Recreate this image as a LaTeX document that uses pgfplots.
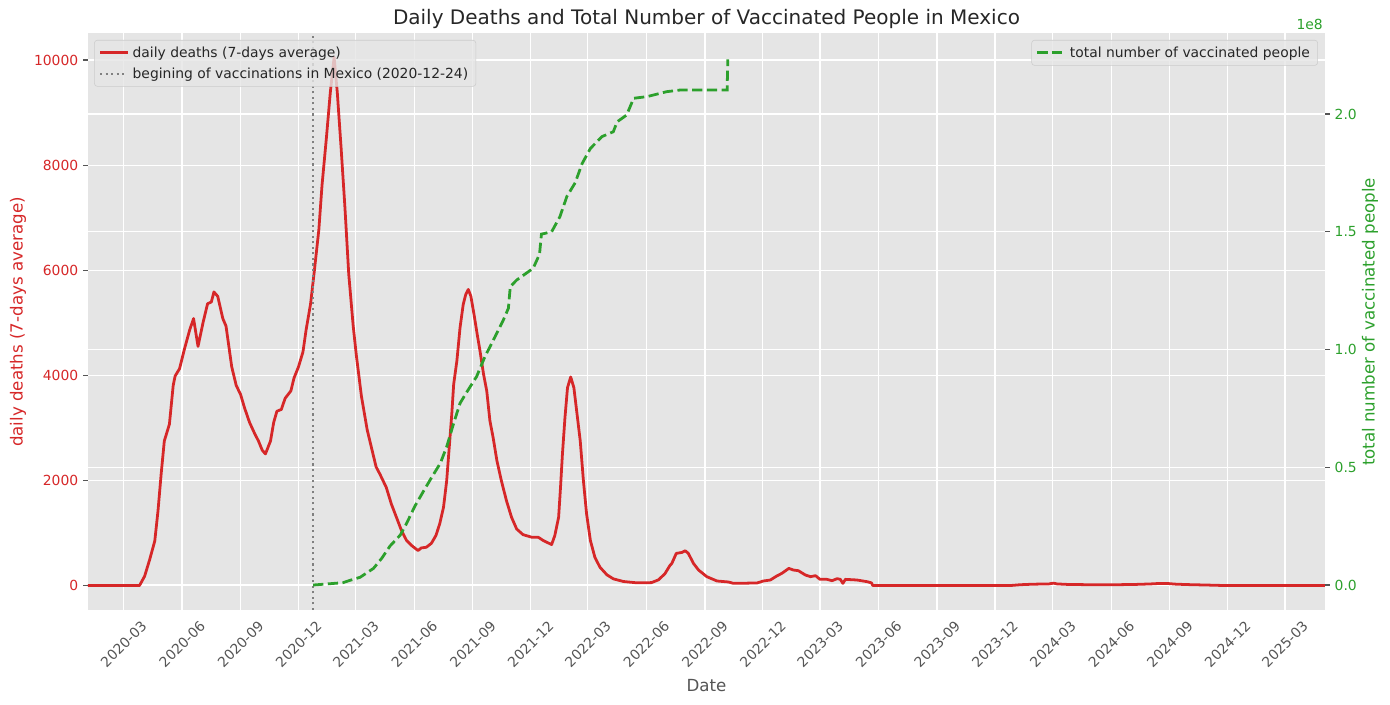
\documentclass[border=0pt]{standalone}
\usepackage{graphicx}
\usepackage{fontspec}
\setmainfont{DejaVu Sans}
\usepackage{pgfplots}
\pgfplotsset{compat=1.18}
\definecolor{mplred}{HTML}{D62728}
\definecolor{mplgreen}{HTML}{2CA02C}
\definecolor{bggray}{HTML}{E5E5E5}
\definecolor{tickgray}{HTML}{555555}
\definecolor{legedge}{HTML}{CCCCCC}
\definecolor{textdark}{HTML}{262626}
\newcommand{\rl}[1]{\rotatebox{45}{#1}}
\pgfplotsset{
  base/.style={
    set layers,
    scale only axis, width=890.6pt, height=415.4pt,
    at={(0pt,0pt)}, anchor=south west,
    xmin=4, xmax=1949,
    axis line style={draw=none},
    tick align=outside, major tick length=3.5pt,
    tick style={color=tickgray, line width=0.8pt},
    tick label style={font=\fontsize{10}{12}\selectfont},
    /pgf/number format/assume math mode=true,
    /pgf/number format/1000 sep={},
    scaled y ticks=false,
    grid style={white, line width=0.9pt},
    legend cell align=left,
    legend image code/.code={\draw[##1] (0pt,0pt) -- (20pt,0pt);},
    legend style={draw=legedge, fill=bggray, fill opacity=0.8, text opacity=1,
      rounded corners=2pt, font=\fontsize{10}{12}\selectfont, text=textdark,
      inner xsep=3pt, inner ysep=2pt, row sep=1pt,
      nodes={inner sep=2.5pt}},
  }
}
\begin{document}
\begin{tikzpicture}
\begin{axis}[base,
  axis background/.style={fill=bggray},
  axis x line*=bottom, axis y line*=left,
  xmajorgrids, ymajorgrids,
  ymin=-466, ymax=10514,
  ytick={0,2000,4000,6000,8000,10000},
  yticklabel style={color=mplred},
  xtick={60,152,244,335,425,517,609,700,790,882,974,1065,1155,1247,1339,1430,1521,1613,1705,1796,1886},
  xticklabels={\rl{2020-03},\rl{2020-06},\rl{2020-09},\rl{2020-12},\rl{2021-03},\rl{2021-06},\rl{2021-09},\rl{2021-12},\rl{2022-03},\rl{2022-06},\rl{2022-09},\rl{2022-12},\rl{2023-03},\rl{2023-06},\rl{2023-09},\rl{2023-12},\rl{2024-03},\rl{2024-06},\rl{2024-09},\rl{2024-12},\rl{2025-03}},
  xticklabel style={color=tickgray, anchor=north},
  xtick style={draw=none},
  legend style={at={(0.005,0.988)}, anchor=north west},
]
\addplot[mplred, line width=2pt, line join=round] coordinates {
(4,0) (85,0) (93,176) (101,494) (109,847) (114,1411) (119,2117) (124,2751) (132,3069)
(138,3810) (141,3986) (148,4127) (156,4515) (164,4868) (170,5080) (177,4550) (185,5009)
(192,5362) (198,5397) (202,5587) (208,5503) (216,5080) (221,4939) (230,4162) (237,3810)
(244,3633) (250,3386) (258,3104) (266,2893) (272,2751) (278,2575) (283,2504) (291,2751)
(296,3104) (301,3316) (308,3351) (314,3563) (323,3704) (328,3951) (335,4162) (342,4445)
(347,4868) (354,5362) (360,5997) (367,6773) (372,7619) (379,8537) (385,9383) (391,10053)
(396,9383) (402,8325) (408,7196) (414,5926) (421,4939) (426,4374) (434,3598) (443,2963)
(450,2610) (457,2258) (463,2120) (473,1867) (481,1551) (489,1298) (497,1044) (505,855)
(513,760) (523,665) (528,715) (536,728) (544,804) (551,950) (557,1171) (563,1488)
(568,1994) (572,2627) (576,3260) (579,3830) (584,4273) (589,4906) (594,5349) (598,5539)
(602,5634) (606,5507) (611,5159) (616,4779) (620,4494) (626,4020) (631,3703) (636,3133)
(641,2817) (647,2374) (654,1994) (662,1614) (670,1298) (678,1076) (688,968) (702,918)
(712,918) (720,855) (733,779) (738,950) (744,1298) (747,1867) (750,2500) (754,3197)
(758,3766) (763,3969) (768,3766) (773,3260) (778,2754) (783,1994) (788,1361) (794,855)
(801,538) (809,348) (820,203) (830,127) (846,76) (867,51) (890,55) (901,108) (911,222)
(919,380) (922,420) (929,611) (938,630) (943,662) (948,611) (956,421) (964,295) (977,168)
(993,86) (1011,67) (1019,41) (1056,48) (1066,86) (1077,105) (1087,181) (1095,231)
(1106,326) (1113,295) (1121,282) (1132,200) (1140,168) (1148,187) (1155,117) (1166,117)
(1174,92) (1182,130) (1187,117) (1191,41) (1195,117) (1213,105) (1229,73) (1236,50)
(1238,0) (1455,0) (1470,15) (1490,25) (1515,30) (1522,45) (1528,30) (1545,20) (1580,15)
(1620,15) (1650,20) (1675,30) (1690,40) (1700,40) (1715,25) (1740,15) (1760,10) (1790,0)
(1949,0)
};
\addlegendentry{daily deaths (7-days average)}
\addplot[color=gray, line width=1.5pt, dash pattern=on 1.5pt off 2.5pt] coordinates {(358,-466) (358,10514)};
\addlegendentry{begining of vaccinations in Mexico (2020-12-24)}
\end{axis}
\begin{axis}[base,
  axis x line=none, axis y line*=right,
  ymajorgrids,
  ymin=-0.106, ymax=2.344,
  ytick={0,0.5,1,1.5,2},
  yticklabel style={color=mplgreen, /pgf/number format/fixed, /pgf/number format/fixed zerofill, /pgf/number format/precision=1},
  legend style={at={(0.9943,0.988)}, anchor=north east},
]
\addplot[mplgreen, line width=2pt, dash pattern=on 7.4pt off 3.2pt] coordinates {
(358,0) (405,0.01) (416,0.02) (432,0.033) (453,0.071) (466,0.114) (479,0.166) (495,0.212)
(505,0.262) (518,0.335) (531,0.396) (545,0.46) (558,0.517) (568,0.587) (579,0.687)
(589,0.772) (600,0.821) (615,0.885) (628,0.969) (644,1.054) (657,1.125) (665,1.175)
(668,1.267) (678,1.295) (704,1.345) (714,1.405) (717,1.49) (733,1.50) (746,1.564)
(757,1.65) (770,1.708) (781,1.79) (794,1.854) (812,1.904) (830,1.925) (836,1.967)
(851,1.996) (862,2.067) (883,2.074) (914,2.095) (935,2.102) (1009,2.102) (1010,2.232)
};
\addlegendentry{total number of vaccinated people}
\end{axis}
\node[anchor=base, font=\fontsize{14.4}{17}\selectfont, text=textdark] at (445.3pt,421.2pt) {Daily Deaths and Total Number of Vaccinated People in Mexico};
\node[anchor=base, font=\fontsize{12}{14}\selectfont, text=tickgray] at (445.3pt,-59pt) {Date};
\node[rotate=90, font=\fontsize{12}{14}\selectfont, text=mplred] at (-50.4pt,207.4pt) {daily deaths (7-days average)};
\node[rotate=90, font=\fontsize{12}{14}\selectfont, text=mplgreen] at (923pt,207.4pt) {total number of vaccinated people};
\node[anchor=base east, font=\fontsize{10}{12}\selectfont, text=mplgreen, inner sep=0pt] at (889.2pt,418.3pt) {1e8};
\pgfresetboundingbox
\useasboundingbox (-63.36pt,-68.4pt) rectangle (937.44pt,439.2pt);
\end{tikzpicture}
\end{document}
